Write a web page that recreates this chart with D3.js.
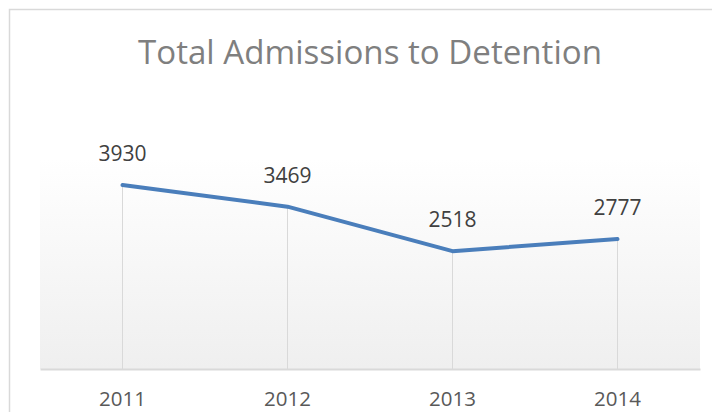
<!DOCTYPE html>
<html>
<head>
<meta charset="utf-8">
<script src="https://cdn.jsdelivr.net/npm/d3@7"></script>
<style>
  html, body { margin: 0; padding: 0; background: #ffffff; }
  svg { display: block; }
  text { font-family: "Open Sans", "Noto Sans", sans-serif; }
</style>
</head>
<body>
<svg id="chart" width="712" height="412"></svg>
<script>
const title = "Total Admissions to Detention";
const years = ["2011", "2012", "2013", "2014"];
const admissions = [3930, 3469, 2518, 2777];
const yMax = 4500;

const svg = d3.select("#chart");
const W = 712, H = 412;

// gradient for the plot area
const defs = svg.append("defs");
const grad = defs.append("linearGradient")
  .attr("id", "plotGrad").attr("x1", 0).attr("y1", 0).attr("x2", 0).attr("y2", 1);
grad.append("stop").attr("offset", "0%").attr("stop-color", "#ffffff");
grad.append("stop").attr("offset", "100%").attr("stop-color", "#efefef");

// chart border
svg.append("rect")
  .attr("x", 9.5).attr("y", 9.5)
  .attr("width", W + 20).attr("height", H + 20)
  .attr("fill", "#ffffff")
  .attr("stroke", "#d9d9d9").attr("stroke-width", 1.5);

const x = d3.scaleBand().domain(years).range([40, 700]);
const y = d3.scaleLinear().domain([0, yMax]).range([369, 158.4]);

// plot area fill
svg.append("rect")
  .attr("x", x.range()[0]).attr("y", y(yMax))
  .attr("width", x.range()[1] - x.range()[0])
  .attr("height", y(0) - y(yMax))
  .attr("fill", "url(#plotGrad)");

// title
svg.append("text")
  .attr("x", 370).attr("y", 64)
  .attr("text-anchor", "middle")
  .attr("font-size", 32)
  .attr("fill", "#7f7f7f")
  .attr("textLength", 464)
  .attr("lengthAdjust", "spacingAndGlyphs")
  .text(title);

const cx = d => x(d) + x.bandwidth() / 2;

// drop lines
svg.append("g").selectAll("line")
  .data(years)
  .join("line")
  .attr("x1", d => cx(d)).attr("x2", d => cx(d))
  .attr("y1", (d, i) => y(admissions[i]))
  .attr("y2", y(0))
  .attr("stroke", "#d9d9d9").attr("stroke-width", 1);

// x axis
const xAxis = svg.append("g")
  .attr("transform", `translate(0,${y(0)})`)
  .call(d3.axisBottom(x).tickSize(0).tickPadding(0));
xAxis.select(".domain").attr("stroke", "#d9d9d9").attr("stroke-width", 2);
xAxis.selectAll("text")
  .attr("font-size", 20.5)
  .attr("fill", "#595959")
  .attr("font-family", "'Open Sans', sans-serif")
  .attr("y", 36.5)
  .attr("dy", null);

// line
const line = d3.line()
  .x((d, i) => cx(years[i]))
  .y(d => y(d));
svg.append("path")
  .datum(admissions)
  .attr("d", line)
  .attr("fill", "none")
  .attr("stroke", "#4a7ebb")
  .attr("stroke-width", 4)
  .attr("stroke-linejoin", "round")
  .attr("stroke-linecap", "round");

// data labels
svg.append("g").selectAll("text")
  .data(admissions)
  .join("text")
  .attr("x", (d, i) => cx(years[i]))
  .attr("y", d => y(d) - 24)
  .attr("text-anchor", "middle")
  .attr("font-size", 21)
  .attr("fill", "#404040")
  .text(d => d);
</script>
</body>
</html>
